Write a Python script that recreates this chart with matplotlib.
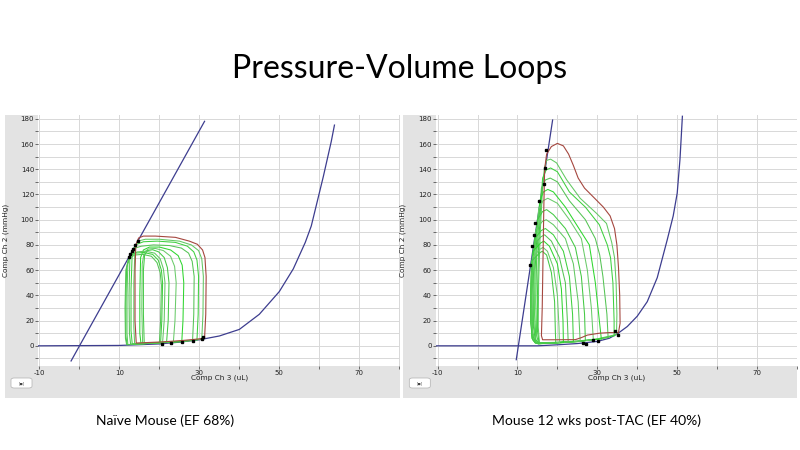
"""Pressure-volume loops: naive vs TAC mouse, two LabChart-style panels."""
import matplotlib
matplotlib.use("Agg")
import matplotlib.pyplot as plt
from matplotlib.patches import Rectangle, FancyBboxPatch
from matplotlib.ticker import FixedLocator, MultipleLocator

TITLE = "Pressure-Volume Loops"
CAPTIONS = ["Naïve Mouse (EF 68%)", "Mouse 12 wks post-TAC (EF 40%)"]
X_LABEL = "Comp Ch 3 (uL)"
Y_LABEL = "Comp Ch 2 (mmHg)"
X_TICKS = [-10, 10, 30, 50, 70]
Y_TICKS = [0, 20, 40, 60, 80, 100, 120, 140, 160, 180]

# ---- naive mouse ----
NAIVE_ESPVR_X = [-2.1, 31.3]
NAIVE_ESPVR_Y = [-12, 178]
NAIVE_EDPVR_X = [-10.3, 10, 20, 25, 30, 35, 40, 45, 50, 53.5, 56.5, 58, 60, 61, 62, 63, 63.8]
NAIVE_EDPVR_Y = [0, 0.3, 1.5, 2.9, 4.8, 7.8, 13, 25, 43, 61, 82, 95, 121, 134, 148, 162, 175]

NAIVE_RED_X = [31.3, 31.6, 31.7, 31.4, 30.8, 29.5, 27.5, 24, 19, 16, 14.8, 14.1, 13.9, 13.9,
               14.2, 17, 20, 23, 26, 29, 31.3]
NAIVE_RED_Y = [6, 25, 55, 70, 76, 80.5, 83, 86, 87, 87, 85.5, 80, 60, 20,
               2.2, 2.6, 3.0, 3.6, 4.3, 5.2, 6]

NAIVE_LOOPS_X = [
    [30.6, 30.9, 31.0, 30.6, 29.8, 28, 25, 20, 16.5, 14.6, 13.9, 13.6, 13.6, 13.8, 17, 21, 25, 28, 30.6],
    [29.4, 29.7, 29.8, 29.4, 28.6, 27, 24, 19.5, 16, 14.0, 13.2, 12.9, 12.9, 13.2, 17, 21, 25, 29.4],
    [28.3, 28.6, 28.7, 28.2, 27.3, 25.5, 22.5, 18.5, 15.5, 13.4, 12.6, 12.4, 12.5, 12.8, 17, 21, 25, 28.3],
    [25.6, 25.9, 26.1, 25.7, 24.7, 22.8, 20, 17.5, 16.0, 15.3, 15.1, 15.1, 15.4, 18, 21, 25.6],
    [23.5, 23.9, 24.2, 23.8, 22.8, 21, 19, 17.2, 16.2, 15.7, 15.6, 15.8, 19, 23.5],
    [21.8, 22.2, 22.4, 22.0, 21.2, 19.8, 18.3, 17.0, 16.3, 16.0, 16.0, 16.2, 19, 21.8],
    [20.8, 21.2, 21.4, 21.0, 20.2, 18.8, 16.5, 14.5, 12.8, 12.1, 11.9, 11.9, 12.1, 16, 20.8],
    [20.3, 20.6, 20.8, 20.5, 19.7, 18.3, 16, 14, 12.5, 11.8, 11.6, 11.6, 11.9, 16, 20.3],
    [20.0, 20.3, 20.5, 20.2, 19.4, 18.0, 15.8, 13.8, 12.3, 11.6, 11.4, 11.5, 11.8, 16, 20.0],
]
NAIVE_LOOPS_Y = [
    [5.3, 25, 55, 69, 75.5, 80, 83, 84.5, 84.5, 83, 78, 50, 15, 1.8, 2.2, 2.8, 3.5, 4.3, 5.3],
    [4.8, 25, 55, 68, 74.5, 79, 82, 83, 82.5, 80, 74, 45, 12, 1.5, 2.0, 2.6, 3.4, 4.8],
    [4.2, 25, 55, 67, 73.5, 77.5, 79.5, 80, 79, 77, 70, 40, 10, 1.2, 1.8, 2.5, 3.2, 4.2],
    [3.4, 20, 50, 64, 71.5, 76, 78.3, 78.3, 76, 70, 40, 10, 1.6, 2.1, 2.6, 3.4],
    [3.3, 20, 50, 63, 71, 75.5, 77.2, 76.8, 74, 65, 30, 1.7, 2.5, 3.3],
    [2.9, 20, 50, 62, 70, 74.5, 76.2, 75.5, 72, 60, 25, 1.8, 2.3, 2.9],
    [2.7, 20, 50, 61, 69, 73.5, 75, 74.5, 72, 65, 40, 10, 1.0, 1.8, 2.7],
    [2.6, 20, 50, 60, 68, 72.5, 74, 73.5, 71, 62, 35, 8, 0.9, 1.7, 2.6],
    [2.5, 20, 48, 58, 66, 71, 72.5, 72, 69, 60, 30, 6, 0.9, 1.6, 2.5],
]
NAIVE_ES_X = [14.75, 14.0, 13.4, 13.1, 12.6, 12.3]
NAIVE_ES_Y = [83.5, 80, 77, 75, 72.5, 70.5]
NAIVE_ED_X = [30.8, 30.6, 28.3, 25.6, 22.9, 20.6]
NAIVE_ED_Y = [6.9, 5.3, 4.0, 3.4, 2.6, 1.6]

# ---- TAC mouse ----
TAC_ESPVR_X = [9.7, 18.8]
TAC_ESPVR_Y = [-11, 179]
TAC_EDPVR_X = [-10.4, 15, 20, 25, 30, 33, 35, 37.5, 40, 42.5, 45, 47.5, 49, 50, 50.7, 51.3]
TAC_EDPVR_Y = [0, 0, 0.8, 1.8, 3.5, 6, 9.5, 15.3, 23.5, 35, 54, 84, 103, 121, 148, 182]

TAC_RED_X = [35.3, 35.7, 35.6, 35.3, 34.9, 34.3, 33.2, 31.5, 29, 26.8, 25.2, 24.0, 22.8, 21.5,
             20.0, 18.5, 17.3, 16.8, 16.6, 16.4, 16.2, 16.0, 16.3, 20, 24.5, 26, 27.5, 30.5, 33, 35.3]
TAC_RED_Y = [10.5, 18, 40, 62, 80, 93, 103, 110, 118, 125, 133, 143, 152, 158.5,
             160.5, 158, 152, 140, 110, 70, 30, 8, 4.8, 4.8, 4.9, 6.5, 8.5, 10, 10.5, 10.5]

TAC_LOOPS_X = [
    [34.8, 34.9, 34.7, 34.3, 33.6, 32.3, 29.8, 25.7, 22.3, 19.8, 18.3, 17.3, 16.7, 16.2, 15.7, 15.3, 15.2, 15.5, 20, 25, 30, 34.8],
    [34.2, 34.2, 33.9, 33.3, 32.5, 30.5, 27, 23, 20, 18.3, 17.2, 16.3, 15.8, 15.3, 15.0, 15.0, 15.4, 20, 25, 30, 34.2],
    [32.7, 32.4, 31.4, 30.6, 29.5, 27, 23, 20, 18.2, 17, 16.0, 15.4, 14.8, 14.6, 14.8, 15.3, 20, 25, 29, 32.7],
    [31.0, 30.5, 29.5, 28, 25, 22, 19, 17.6, 16.5, 15.6, 15.0, 14.4, 14.3, 14.6, 15.3, 20, 25, 31.0],
    [29.0, 28.5, 27.5, 26, 23, 20, 17.6, 16.4, 15.3, 14.6, 14.1, 14.1, 14.5, 15.2, 20, 25, 29.0],
    [27.0, 26.8, 26, 24.5, 22, 19, 17.3, 16.3, 15.0, 14.2, 13.9, 14.0, 14.5, 15.2, 20, 24, 27.0],
    [25.7, 25.2, 24, 22, 19, 17.2, 16.2, 14.6, 13.9, 13.7, 13.8, 14.4, 15.2, 20, 25.7],
    [24.0, 23.8, 23, 21.5, 19, 17, 16, 14.3, 13.7, 13.5, 13.7, 14.4, 15.2, 20, 24.0],
    [22.7, 22.5, 22, 20.5, 18.5, 16.8, 15.9, 14.1, 13.6, 13.4, 13.6, 14.4, 15.2, 19, 22.7],
    [21.5, 21.4, 21, 20, 18, 16.6, 15.8, 13.9, 13.5, 13.4, 13.6, 14.4, 15.2, 19, 21.5],
    [20.5, 20.4, 20, 19, 17.5, 16.4, 15.6, 13.7, 13.4, 13.4, 13.8, 14.5, 15.3, 18, 20.5],
    [19.6, 19.5, 19.3, 18.5, 17.3, 16.2, 15.5, 13.5, 13.3, 13.3, 13.8, 14.5, 15.3, 18, 19.6],
]
TAC_LOOPS_Y = [
    [9, 25, 50, 70, 82, 97, 105, 117, 131.7, 145, 148, 147, 140, 120, 90, 50, 15, 2.5, 2.8, 3.8, 5.5, 9],
    [8, 20, 50, 70, 80, 96, 110, 122, 138, 141, 139.5, 133, 110, 80, 40, 12, 2.3, 2.6, 3.6, 5.2, 8],
    [6.5, 25, 55, 72, 85, 100, 115, 130, 133, 131.5, 125, 100, 70, 35, 8, 2.2, 2.5, 3.5, 4.8, 6.5],
    [5.5, 20, 50, 80, 95, 110, 122, 124, 122, 115, 95, 60, 25, 5, 2, 2.4, 3.4, 5.5],
    [4.8, 30, 60, 85, 100, 113, 117, 115, 108, 85, 50, 20, 4, 2, 2.3, 3.3, 4.8],
    [4.2, 25, 55, 78, 93, 104, 108, 106.5, 100, 75, 45, 15, 3.5, 1.9, 2.3, 3, 4.2],
    [3.8, 35, 65, 85, 96, 100, 98.5, 92, 70, 40, 12, 3, 1.8, 2.3, 3.8],
    [3.5, 25, 55, 75, 88, 93, 91.5, 85, 65, 35, 10, 2.8, 1.8, 2.4, 3.5],
    [3.3, 20, 50, 70, 83, 88, 86.5, 80, 60, 30, 8, 2.6, 1.7, 2.4, 3.3],
    [3.0, 20, 45, 65, 79, 83, 81.5, 75, 55, 25, 6, 2.4, 1.7, 2.3, 3.0],
    [2.8, 15, 40, 62, 75, 78, 76.5, 70, 50, 20, 5, 2.3, 1.6, 2.2, 2.8],
    [2.7, 10, 35, 58, 72, 75, 73.5, 67, 45, 18, 5, 2.3, 1.6, 2.1, 2.7],
]
TAC_ES_X = [17.1, 17.0, 16.6, 15.5, 14.4, 14.2, 13.7, 13.2]
TAC_ES_Y = [155, 141, 128, 115, 97, 88, 79, 64]
TAC_ED_X = [35.3, 34.4, 30.1, 29.0, 27.2, 26.3]
TAC_ED_Y = [8.7, 11.4, 4.2, 4.8, 1.6, 2.6]

PVR_COLOR = "#3d3d8f"
RED_COLOR = "#a5473f"
GREENS = ["#62c862", "#3fd03f", "#55c455", "#2fd62f", "#6acb6a", "#44c944"]
PANEL_BG = "#e3e3e3"
GRID = "#d8d8d8"

plt.rcParams['font.family'] = ['Lato', 'DejaVu Sans']
plt.rcParams['axes.unicode_minus'] = False

W, H = 800, 450
fig = plt.figure(figsize=(8, 4.5), dpi=100, facecolor="white")


def fx(px):
    return px / W


def fy(py):
    return 1 - py / H


def draw_panel(panel_px, axes_px, xlim, espvr, edpvr, red, loops, es, ed):
    # grey LabChart-style frame behind the plot area
    x0, y0, x1, y1 = panel_px
    fig.patches.append(Rectangle((fx(x0), fy(y1)), fx(x1 - x0), (y1 - y0) / H,
                                 transform=fig.transFigure, facecolor=PANEL_BG,
                                 edgecolor="none", zorder=-5))
    # small button at bottom-left
    fig.patches.append(FancyBboxPatch((fx(x0 + 6), fy(388)), fx(21), 10 / H,
                                      boxstyle="round,pad=0,rounding_size=0.004",
                                      transform=fig.transFigure, facecolor="white",
                                      edgecolor="#b0b0b0", lw=0.5, zorder=2))
    fig.text(fx(x0 + 16.5), fy(383), "[■]", fontsize=2.5, color="#444444",
             ha="center", va="center", family="DejaVu Sans")

    a0, b0, a1, b1 = axes_px
    ax = fig.add_axes([fx(a0), fy(b1), fx(a1 - a0), (b1 - b0) / H])
    ax.set_facecolor("white")
    ax.set_xlim(*xlim)
    ax.set_ylim(-16, 183)
    for s in ax.spines.values():
        s.set_visible(False)

    ax.xaxis.set_major_locator(FixedLocator(X_TICKS))
    ax.xaxis.set_minor_locator(MultipleLocator(10))
    ax.yaxis.set_major_locator(FixedLocator(Y_TICKS))
    ax.yaxis.set_minor_locator(MultipleLocator(10))
    ax.grid(which="both", color=GRID, lw=0.7)
    ax.set_axisbelow(True)
    ax.tick_params(which="both", direction="out", length=2, width=0.6,
                   color="#555555", labelsize=5, labelcolor="#222222", pad=1)
    for lab in ax.get_xticklabels() + ax.get_yticklabels():
        lab.set_family("DejaVu Sans")

    ax.set_xlabel(X_LABEL, fontsize=5.3, family="DejaVu Sans", color="#222222")
    ax.set_ylabel(Y_LABEL, fontsize=5.3, family="DejaVu Sans", color="#222222")
    ax.xaxis.set_label_coords(0.5, -0.035)
    ax.yaxis.set_label_coords(-0.082, 0.5)

    ax.plot(*espvr, color=PVR_COLOR, lw=0.9, zorder=3)
    ax.plot(*edpvr, color=PVR_COLOR, lw=0.9, zorder=3)
    for i, (lx, ly) in enumerate(zip(*loops)):
        ax.plot(lx, ly, color=GREENS[i % len(GREENS)], lw=0.75,
                solid_joinstyle="round", zorder=4)
    ax.plot(*red, color=RED_COLOR, lw=0.8, solid_joinstyle="round", zorder=5)
    ax.plot(*es, ls="none", marker="s", ms=1.6, color="black", zorder=6)
    ax.plot(*ed, ls="none", marker="s", ms=1.6, color="black", zorder=6)
    return ax


draw_panel((5, 115, 400, 398), (38.3, 115, 400, 366), (-10.3, 80.2),
           (NAIVE_ESPVR_X, NAIVE_ESPVR_Y), (NAIVE_EDPVR_X, NAIVE_EDPVR_Y),
           (NAIVE_RED_X, NAIVE_RED_Y), (NAIVE_LOOPS_X, NAIVE_LOOPS_Y),
           (NAIVE_ES_X, NAIVE_ES_Y), (NAIVE_ED_X, NAIVE_ED_Y))
draw_panel((403.3, 115, 797, 398), (436, 115, 797, 366), (-10.4, 80),
           (TAC_ESPVR_X, TAC_ESPVR_Y), (TAC_EDPVR_X, TAC_EDPVR_Y),
           (TAC_RED_X, TAC_RED_Y), (TAC_LOOPS_X, TAC_LOOPS_Y),
           (TAC_ES_X, TAC_ES_Y), (TAC_ED_X, TAC_ED_Y))

fig.text(0.5, fy(78), TITLE, fontsize=23, ha="center", va="baseline", color="black")
fig.text(fx(165), fy(425), CAPTIONS[0], fontsize=10, ha="center", va="baseline")
fig.text(fx(596), fy(425), CAPTIONS[1], fontsize=10, ha="center", va="baseline")

fig.savefig("out.png", dpi=100, facecolor="white")
plt.close(fig)
